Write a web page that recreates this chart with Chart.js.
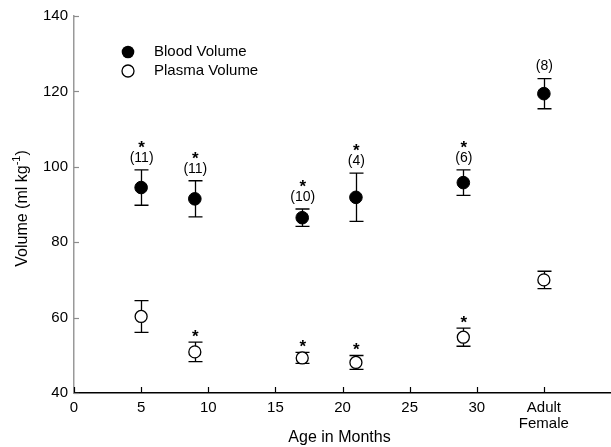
<!DOCTYPE html>
<html>
<head>
<meta charset="utf-8">
<script src="https://cdn.jsdelivr.net/npm/chart.js@4.4.1/dist/chart.umd.min.js"></script>
<style>
html,body{margin:0;padding:0;background:#fff;}
#wrap{width:611px;height:447px;}
</style>
</head>
<body>
<div id="wrap"><canvas id="c" width="611" height="447"></canvas></div>
<script>
// ---- data ----
const ages = [5, 9, 17, 21, 29, 35];           // 35 = "Adult Female" position
const bloodMean = [94.5, 91.5, 86.5, 91.9, 95.8, 119.4];
const bloodErr  = [4.7, 4.8, 2.3, 6.4, 3.4, 4.0];
const plasmaMean = [60.3, 50.9, 49.3, 48.1, 54.8, 70.0];
const plasmaErr  = [4.2, 2.6, 1.45, 1.85, 2.4, 2.3];
const nLabels = ['(11)', '(11)', '(10)', '(4)', '(6)', '(8)'];
const bloodStar = [true, true, true, true, true, false];
const plasmaStar = [false, true, true, true, true, false];
const xTickLabels = {0:'0',5:'5',10:'10',15:'15',20:'20',25:'25',30:'30',35:['Adult','Female'],40:''};
const yTicks = [40, 60, 80, 100, 120, 140];
const seriesNames = ['Blood Volume', 'Plasma Volume'];
const xTitle = 'Age in Months';

const FONT = '"Liberation Sans", Arial, sans-serif';

const toPts = (m) => ages.map((a, i) => ({x: a, y: m[i]}));

const extras = {
  id: 'extras',
  beforeDatasetsDraw(chart) {
    const ctx = chart.ctx, xs = chart.scales.x, ys = chart.scales.y;
    ctx.save();
    ctx.strokeStyle = '#000';
    ctx.lineWidth = 1.3;
    const bars = (mean, err) => {
      ages.forEach((a, i) => {
        const px = Math.round(xs.getPixelForValue(a)) + 0.5;
        const t = ys.getPixelForValue(mean[i] + err[i]);
        const b = ys.getPixelForValue(mean[i] - err[i]);
        ctx.beginPath();
        ctx.moveTo(px, t); ctx.lineTo(px, b);
        ctx.moveTo(px - 7, t); ctx.lineTo(px + 7, t);
        ctx.moveTo(px - 7, b); ctx.lineTo(px + 7, b);
        ctx.stroke();
      });
    };
    bars(bloodMean, bloodErr);
    bars(plasmaMean, plasmaErr);
    ctx.restore();
  },
  afterDraw(chart) {
    const ctx = chart.ctx, xs = chart.scales.x, ys = chart.scales.y;
    const ca = chart.chartArea;
    ctx.save();
    // x ticks (inward)
    ctx.strokeStyle = '#000'; ctx.lineWidth = 1.2;
    for (let v = 0; v <= 35; v += 5) {
      const px = Math.round(xs.getPixelForValue(v)) + 0.5;
      ctx.beginPath(); ctx.moveTo(px, ca.bottom); ctx.lineTo(px, ca.bottom - 6); ctx.stroke();
    }
    // y ticks (inward, grey)
    ctx.strokeStyle = '#8c8c8c';
    yTicks.forEach(v => {
      const py = Math.round(ys.getPixelForValue(v)) + 0.5;
      ctx.beginPath(); ctx.moveTo(ca.left, py); ctx.lineTo(ca.left + 5, py); ctx.stroke();
    });
    // annotations
    ctx.fillStyle = '#000';
    ctx.textAlign = 'center';
    ages.forEach((a, i) => {
      const px = xs.getPixelForValue(a);
      const top = ys.getPixelForValue(bloodMean[i] + bloodErr[i]);
      ctx.font = '14px ' + FONT;
      ctx.textBaseline = 'middle';
      ctx.fillText(nLabels[i], px + 0.5, top - 12);
      if (bloodStar[i]) {
        ctx.font = 'bold 17px ' + FONT;
        ctx.textBaseline = 'alphabetic';
        ctx.fillText('*', px + 0.5, top - 27 + 10);
      }
      if (plasmaStar[i]) {
        const ptop = ys.getPixelForValue(plasmaMean[i] + plasmaErr[i]);
        ctx.font = 'bold 17px ' + FONT;
        ctx.textBaseline = 'alphabetic';
        ctx.fillText('*', px + 0.5, ptop - 10.5 + 10);
      }
    });
    // legend
    const lx = ca.left + 54, ly1 = ca.top + 36, ly2 = ca.top + 55;
    ctx.beginPath(); ctx.arc(lx, ly1, 6.3, 0, Math.PI * 2); ctx.fillStyle = '#000'; ctx.fill();
    ctx.beginPath(); ctx.arc(lx, ly2, 6, 0, Math.PI * 2); ctx.fillStyle = '#fff'; ctx.fill();
    ctx.lineWidth = 1.3; ctx.strokeStyle = '#000'; ctx.stroke();
    ctx.fillStyle = '#000';
    ctx.font = '15px ' + FONT;
    ctx.textAlign = 'left'; ctx.textBaseline = 'middle';
    ctx.fillText(seriesNames[0], lx + 26, ly1);
    ctx.fillText(seriesNames[1], lx + 26, ly2);
    // x title
    ctx.font = '16px ' + FONT;
    ctx.textAlign = 'center';
    ctx.fillText(xTitle, (ca.left + ca.right) / 2 - 3, 438);
    // y title with superscript
    ctx.translate(21, (ca.top + ca.bottom) / 2 + 4);
    ctx.rotate(-Math.PI / 2);
    const p1 = 'Volume (ml kg', p2 = '-1', p3 = ')';
    ctx.font = '16px ' + FONT; const w1 = ctx.measureText(p1).width;
    ctx.font = '11px ' + FONT; const w2 = ctx.measureText(p2).width;
    ctx.font = '16px ' + FONT; const w3 = ctx.measureText(p3).width;
    let sx = -(w1 + w2 + w3) / 2;
    ctx.textAlign = 'left'; ctx.textBaseline = 'alphabetic';
    ctx.fillText(p1, sx, 6); sx += w1;
    ctx.font = '11px ' + FONT; ctx.fillText(p2, sx, -1); sx += w2;
    ctx.font = '16px ' + FONT; ctx.fillText(p3, sx, 6);
    ctx.restore();
  }
};

new Chart(document.getElementById('c'), {
  type: 'scatter',
  data: {
    datasets: [
      { label: seriesNames[0], data: toPts(bloodMean), pointRadius: 6.3, pointHoverRadius: 6.3,
        backgroundColor: '#000', borderColor: '#000', borderWidth: 1 },
      { label: seriesNames[1], data: toPts(plasmaMean), pointRadius: 6, pointHoverRadius: 6,
        backgroundColor: '#fff', borderColor: '#000', borderWidth: 1.3 }
    ]
  },
  options: {
    responsive: false,
    animation: false,
    devicePixelRatio: 1,
    layout: { autoPadding: false, padding: { top: 16, right: 0, left: 0, bottom: 0 } },
    plugins: { legend: { display: false }, tooltip: { enabled: false } },
    scales: {
      x: {
        type: 'linear', min: 0, max: 40,
        grid: { display: false, drawTicks: false },
        border: { display: true, color: '#000', width: 1.5 },
        ticks: { stepSize: 5, padding: 6, color: '#000', maxRotation: 0, autoSkip: false,
          font: { family: FONT, size: 15, lineHeight: 1.12 },
          callback: (v) => xTickLabels[v] !== undefined ? xTickLabels[v] : '' },
        afterFit: (s) => { s.height = 54; s.paddingRight = 0; s.paddingLeft = 0; }
      },
      y: {
        type: 'linear', min: 40, max: 140,
        grid: { display: false, drawTicks: false },
        border: { display: true, color: '#999999', width: 1.5 },
        ticks: { stepSize: 20, padding: 6, color: '#000',
          font: { family: FONT, size: 15 } },
        afterFit: (s) => { s.width = 74; s.paddingTop = 0; s.paddingBottom = 0; }
      }
    }
  },
  plugins: [extras]
});
</script>
</body>
</html>
